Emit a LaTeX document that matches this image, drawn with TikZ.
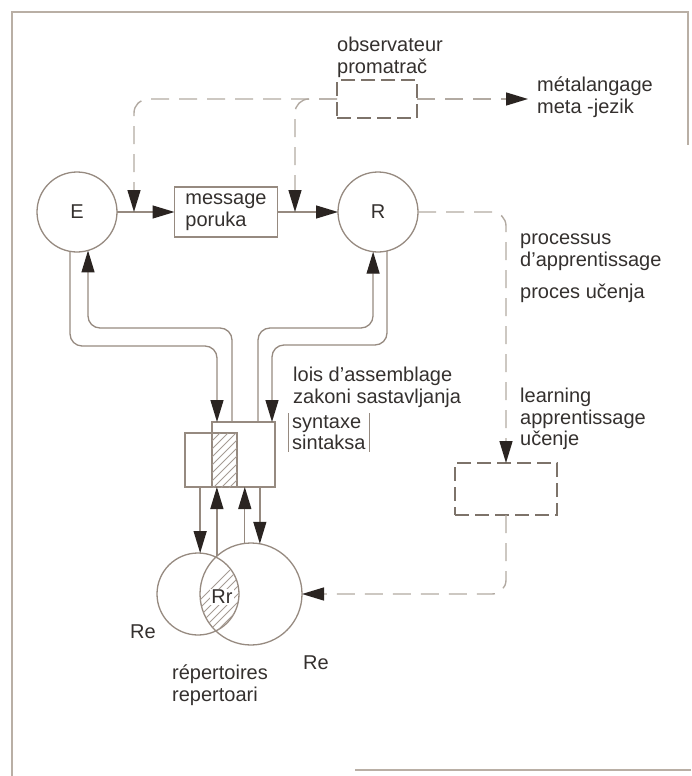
\documentclass[tikz,border=0pt]{standalone}
\usepackage{fontspec}
\setmainfont{Liberation Sans}
\usetikzlibrary{arrows.meta,calc}
\definecolor{lineclr}{RGB}{150,138,128}
\definecolor{dashclr}{RGB}{178,170,162}
\definecolor{dboxclr}{RGB}{125,115,106}
\definecolor{tipclr}{RGB}{42,36,33}
\definecolor{txtclr}{RGB}{52,48,46}
\definecolor{hatchclr}{RGB}{165,155,148}
\definecolor{frmclr}{RGB}{185,175,165}
\newcommand{\clrline}{lineclr}
\newcommand{\clrdash}{dashclr}
\newcommand{\clrtip}{tipclr}

\begin{document}
\begin{tikzpicture}[x=1pt, y=-1pt,
    font=\fontsize{20}{21.5}\selectfont,
    every node/.style={text=txtclr},
    circ/.style={circle, draw=\clrline, line width=1.3pt, inner sep=0pt, outer sep=0pt},
    msgbox/.style={draw=\clrline, line width=1.3pt, minimum width=103pt, minimum height=50pt, align=left, inner sep=0pt, outer sep=0pt},
    sbox/.style={draw=\clrline, line width=1.3pt, inner sep=0pt, outer sep=0pt},
    dbox/.style={draw=dboxclr, line width=1.5pt, dash pattern=on 14pt off 6pt, inner sep=0pt, outer sep=0pt},
    pipe/.style={draw=\clrline, line width=1.3pt, rounded corners=12pt},
    dline/.style={draw=\clrdash, line width=1.4pt, dash pattern=on 18pt off 10pt, rounded corners=14pt},
    arr/.style={-{Triangle[length=22pt,width=13pt,color=\clrtip]}},
    lbl/.style={anchor=north west, align=left, inner sep=0pt},
    hatch/.style={draw=hatchclr, line width=0.8pt},
    frm/.style={draw=frmclr, line width=1.5pt}
]
    \useasboundingbox (0,0) rectangle (691,776);
    %frame of the scan
        \draw[frm] (12,776) -- (12,12) -- (688,12) -- (688,145);
        \draw[frm] (355,770) -- (691,770);

    %sender, message, receiver
        \node[circ, minimum size=80pt] (E) at (77,212) {E};
        \node[msgbox] (msg) at (226,212) {message\\poruka};
        \node[circ, minimum size=80pt] (R) at (378,212) {R};
        \draw[pipe, arr] (E) -- (msg);
        \draw[pipe, arr] (msg) -- (R);

    %observer and learning boxes
        \node[dbox, minimum width=80pt, minimum height=38pt] (obs) at (377,99) {};
        \node[dbox, minimum width=102pt, minimum height=52pt] (learn) at (506,489) {};
        \coordinate (j1) at (134,212);
        \coordinate (j2) at (295,212);
        \coordinate (mt) at (528,99);

    %dashed paths
        \draw[dline, arr] (obs.west) -| (j1);
        \draw[dline, arr] (obs.west) -| (j2);
        \draw[dline, arr] (obs.east) -- (mt);
        \draw[dline, arr] (R.east) -| (learn.north);

    %syntax boxes, overlap hatched
        \node[sbox, minimum width=52pt, minimum height=54pt] (box1) at (211,460) {};
        \node[sbox, minimum width=63pt, minimum height=65pt] (box2) at (243.5,454.5) {};
        \begin{scope}
            \clip (box2.south west) rectangle (box1.north east);
            \foreach \x in {150,158,...,246} {
                \draw[hatch] (\x,495) -- ++(70,-70);
            }
        \end{scope}

    %repertoires
        \node[circ, minimum size=82pt] (rep1) at (198,594) {};
        \node[circ, minimum size=102pt] (rep2) at (251,594) {};
        \begin{scope}
            \clip (198,594) circle[radius=41];
            \clip (251,594) circle[radius=51];
            \foreach \x in {150,158,...,262} {
                \draw[hatch] (\x,650) -- ++(80,-80);
            }
        \end{scope}
        \node[fill=white, inner sep=1pt] (rr) at (222,597) {Rr};
        \draw[dline, arr] (learn.south) |- (rep2.east);

    %double lines from E and R to the boxes
        \draw[pipe, arr] (E.-100) |- (217,346) -- ([xshift=-26.5pt]box2.north);
        \draw[pipe, arr] ([xshift=-11.5pt]box2.north) |- (88,328) -- (E.-74);
        \draw[pipe, arr] ([xshift=14.5pt]box2.north) |- (373,328) -- (R.-97);
        \draw[pipe, arr] (R.-77) |- (272,345) -- ([xshift=28.5pt]box2.north);

    %boxes to repertoires
        \draw[pipe, arr] (box1.south -| rep1.87) -- (rep1.87);
        \draw[pipe, arr] (rep2.132) -- (rep2.132 |- box2.south);
        \draw[pipe, arr] (rep2.97) -- (rep2.97 |- box2.south);
        \draw[pipe, arr] (box2.south -| rep2.80) -- (rep2.80);

    %labels
        \node[lbl] (obslbl) at (337,37) {observateur\\promatrač};
        \node[lbl] (metalbl) at (537,77) {métalangage\\meta -jezik};
        \node[lbl] (proclbl) at (520,234) {processus\\d'apprentissage};
        \node[anchor=base west, inner sep=0pt] (uclbl) at (520,298) {proces učenja};
        \node[lbl] (learnlbl) at (520,388) {learning\\apprentissage\\učenje};
        \node[lbl] (loislbl) at (293,367) {lois d'assemblage\\zakoni sastavljanja};
        \node[lbl, inner xsep=4pt, inner ysep=2pt] (syn) at (288,413) {syntaxe\\sintaksa};
        \draw[draw=\clrline, line width=1pt] (syn.north west) -- (syn.south west);
        \draw[draw=\clrline, line width=1pt] (syn.north east) -- (syn.south east);
        \node[anchor=base west, inner sep=0pt] (re1) at (130,638) {Re};
        \node[anchor=base west, inner sep=0pt] (re2) at (303,669) {Re};
        \node[lbl] (replbl) at (172,665) {répertoires\\repertoari};
\end{tikzpicture}
\end{document}
